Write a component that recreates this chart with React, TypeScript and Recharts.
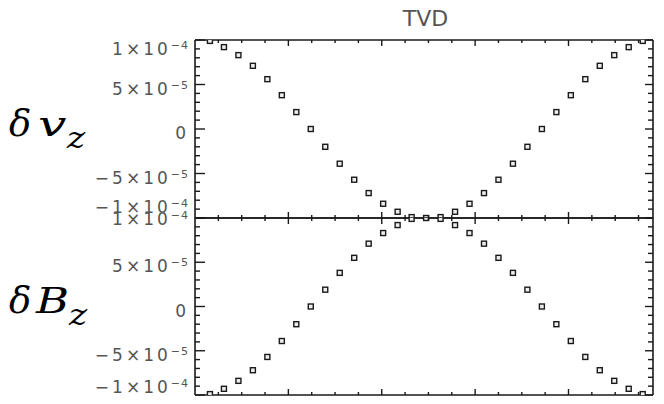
import React from 'react'
import { ScatterChart, Scatter, XAxis, YAxis } from 'recharts'

// grid positions (cell centres)
const xs = [
  0.032, 0.062, 0.093, 0.124, 0.155, 0.186, 0.217, 0.248, 0.279, 0.31, 0.341,
  0.372, 0.403, 0.434, 0.464, 0.495, 0.526, 0.557, 0.588, 0.619, 0.65, 0.681,
  0.712, 0.743, 0.774, 0.805, 0.836, 0.867, 0.898, 0.929, 0.959,
]
// top panel: delta v_z
const dvz = [
  9.9e-5, 9.2e-5, 8.3e-5, 7.1e-5, 5.6e-5, 3.8e-5, 1.9e-5, 0, -2.0e-5, -3.9e-5,
  -5.7e-5, -7.2e-5, -8.4e-5, -9.3e-5, -9.9e-5, -1.0e-4, -9.9e-5, -9.3e-5,
  -8.4e-5, -7.2e-5, -5.7e-5, -3.9e-5, -2.0e-5, 0, 1.9e-5, 3.8e-5, 5.6e-5,
  7.1e-5, 8.3e-5, 9.2e-5, 9.9e-5,
]
// bottom panel: delta B_z
const dbz = [
  -9.9e-5, -9.3e-5, -8.4e-5, -7.2e-5, -5.7e-5, -3.9e-5, -2.0e-5, 0, 1.9e-5,
  3.8e-5, 5.5e-5, 7.1e-5, 8.3e-5, 9.2e-5, 9.9e-5, 1.0e-4, 9.9e-5, 9.2e-5,
  8.3e-5, 7.1e-5, 5.5e-5, 3.8e-5, 1.9e-5, 0, -2.0e-5, -3.9e-5, -5.7e-5,
  -7.2e-5, -8.4e-5, -9.3e-5, -9.9e-5,
]

const yMajor = [-1e-4, -5e-5, 0, 5e-5, 1e-4]
const yLabels = [['−1', '−4'], ['−5', '−5'], ['0', ''], ['5', '−5'], ['1', '−4']]
const yMinor = [
  -9e-5, -8e-5, -7e-5, -6e-5, -4e-5, -3e-5, -2e-5, -1e-5,
  1e-5, 2e-5, 3e-5, 4e-5, 6e-5, 7e-5, 8e-5, 9e-5,
]
const xMajor = [0.2, 0.4, 0.6, 0.8]
const xMinor = [0.05, 0.1, 0.15, 0.25, 0.3, 0.35, 0.45, 0.5, 0.55, 0.65, 0.7, 0.75, 0.85, 0.9, 0.95]

const X_DOMAIN: [number, number] = [0, 0.981]
const Y_DOMAIN: [number, number] = [-1e-4, 1e-4]
const INK = '#1a1a1a'
const LABEL = '#555'

const topData = xs.map((x, i) => ({ x, y: dvz[i] }))
const botData = xs.map((x, i) => ({ x, y: dbz[i] }))

const majorIndex = (list: number[], v: number) => list.findIndex(m => Math.abs(m - v) < 1e-9)

// left ticks point inward, labels sit outside
const makeLeftTick = (panel: 'top' | 'bottom') => (props: any) => {
  const { x, y, payload } = props
  const i = majorIndex(yMajor, payload.value)
  const major = i >= 0
  let dy = 10
  if (i === 4) dy = panel === 'top' ? 15 : 7
  if (i === 0) dy = panel === 'top' ? -5 : -2
  return (
    <g>
      <line x1={x} x2={x + (major ? 10 : 5)} y1={y} y2={y} stroke={INK} strokeWidth={1.4} />
      {major && (
        <text x={189} y={y + dy} textAnchor="end" fontFamily="DejaVu Sans" fontSize={17}
          fill={LABEL} letterSpacing={3}>
          {yLabels[i][0]}
          {yLabels[i][1] && '×10'}
          {yLabels[i][1] && (
            <tspan fontSize={11} dy={-6} letterSpacing={1}>{yLabels[i][1]}</tspan>
          )}
        </text>
      )}
    </g>
  )
}

const RightTick = (props: any) => {
  const { x, y, payload } = props
  const major = majorIndex(yMajor, payload.value) >= 0
  return <line x1={x} x2={x - (major ? 8 : 5)} y1={y} y2={y} stroke={INK} strokeWidth={1.4} />
}

const makeXTick = (dir: 1 | -1, len: number) => (props: any) => {
  const { x, y, payload } = props
  const major = majorIndex(xMajor, payload.value) >= 0
  const l = major ? len * 2 : len
  return <line x1={x} x2={x} y1={y} y2={y + dir * l} stroke={INK} strokeWidth={1.4} />
}

const Marker = (props: any) => {
  const { cx, cy } = props
  return <rect x={cx - 2.5} y={cy - 2.5} width={5} height={5} fill="#eee" stroke={INK} strokeWidth={1.4} />
}

function Panel({ data, panel, top, height, topH, botH, botLen, topLen }: any) {
  return (
    <div style={{ position: 'absolute', left: 0, top, width: 664, height }}>
      <ScatterChart width={664} height={height} margin={{ top: 0, right: 0, bottom: 0, left: 0 }}>
        <XAxis xAxisId="t" orientation="top" type="number" dataKey="x" domain={X_DOMAIN}
          allowDataOverflow ticks={[...xMinor, ...xMajor]} interval={0} height={topH}
          tickSize={0} tickMargin={0} tickLine={false} tick={makeXTick(1, topLen)}
          axisLine={{ stroke: INK, strokeWidth: 1.6 }} />
        <XAxis xAxisId="b" orientation="bottom" type="number" dataKey="x" domain={X_DOMAIN}
          allowDataOverflow ticks={[...xMinor, ...xMajor]} interval={0} height={botH}
          tickSize={0} tickMargin={0} tickLine={false} tick={makeXTick(-1, botLen)}
          axisLine={{ stroke: INK, strokeWidth: 1.6 }} />
        <YAxis yAxisId="l" orientation="left" type="number" dataKey="y" domain={Y_DOMAIN}
          allowDataOverflow ticks={[...yMinor, ...yMajor]} interval={0} width={195}
          tickSize={0} tickMargin={0} tickLine={false} tick={makeLeftTick(panel)}
          axisLine={{ stroke: INK, strokeWidth: 1.6 }} />
        <YAxis yAxisId="r" orientation="right" type="number" dataKey="y" domain={Y_DOMAIN}
          allowDataOverflow ticks={[...yMinor, ...yMajor]} interval={0} width={11}
          tickSize={0} tickMargin={0} tickLine={false} tick={RightTick}
          axisLine={{ stroke: INK, strokeWidth: 1.6 }} />
        <Scatter data={data} xAxisId="b" yAxisId="l" shape={Marker} isAnimationActive={false} />
        <Scatter data={data} xAxisId="t" yAxisId="r" shape={() => null} isAnimationActive={false} />
      </ScatterChart>
    </div>
  )
}

export default function App() {
  return (
    <div style={{ position: 'absolute', left: 0, top: 0, width: 664, height: 404, background: '#fff', overflow: 'hidden' }}>
      <Panel data={topData} panel="top" top={0} height={222} topH={40} botH={4} topLen={3} botLen={3} />
      <Panel data={botData} panel="bottom" top={196} height={208} topH={22} botH={9} topLen={3} botLen={3} />
      <svg width={664} height={404} style={{ position: 'absolute', left: 0, top: 0, pointerEvents: 'none' }}>
        <text x={425.5} y={26} textAnchor="middle" fontFamily="DejaVu Sans" fontSize={22} fill={LABEL}>TVD</text>
        <text x={9} y={136} fontFamily="DejaVu Serif" fontStyle="italic" fontSize={37} fill="#000">δ</text>
        <text transform="translate(38,136) scale(1.4,1)" fontFamily="DejaVu Serif" fontStyle="italic" fontSize={36} fill="#000">v</text>
        <text transform="translate(67,148) scale(1.15,1)" fontFamily="DejaVu Serif" fontStyle="italic" fontSize={30} fill="#000">z</text>
        <text x={9} y={313} fontFamily="DejaVu Serif" fontStyle="italic" fontSize={37} fill="#000">δ</text>
        <text transform="translate(36,313) scale(1.25,1)" fontFamily="DejaVu Serif" fontStyle="italic" fontSize={36} fill="#000">B</text>
        <text transform="translate(69,325) scale(1.15,1)" fontFamily="DejaVu Serif" fontStyle="italic" fontSize={30} fill="#000">z</text>
      </svg>
    </div>
  )
}
